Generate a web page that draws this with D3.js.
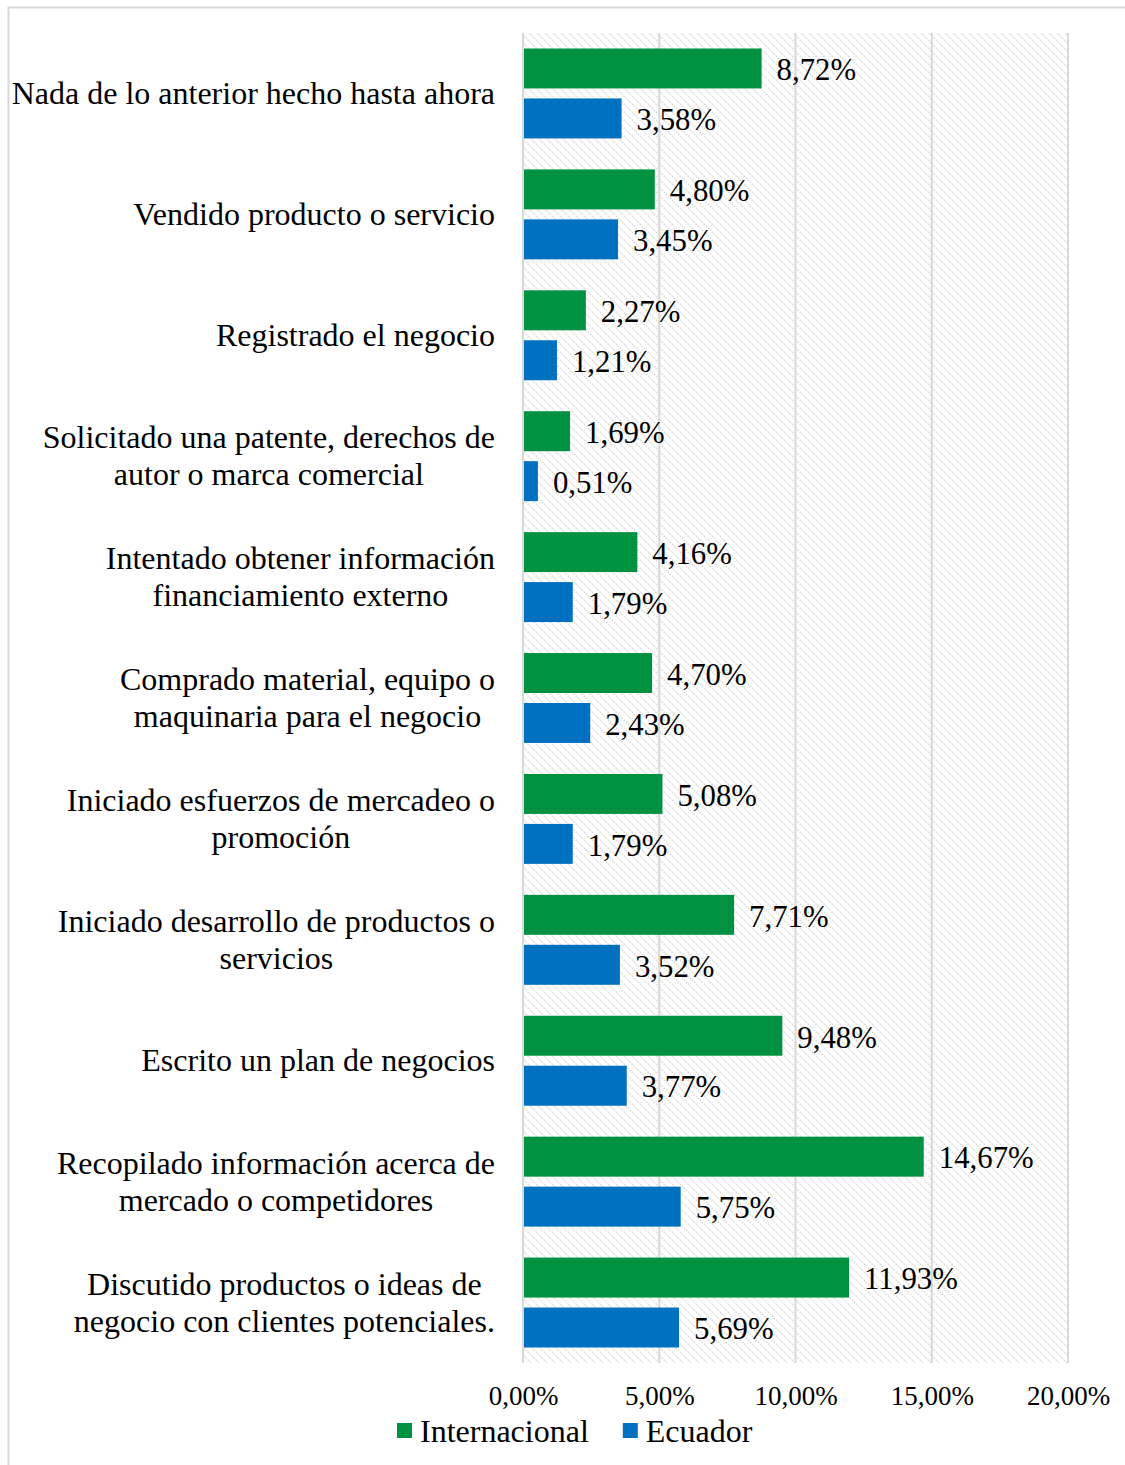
<!DOCTYPE html>
<html>
<head>
<meta charset="utf-8">
<script src="https://cdn.jsdelivr.net/npm/d3@7"></script>
<style>
  html, body { margin: 0; padding: 0; background: #fff; }
  svg { display: block; font-family: "Liberation Serif", "Times New Roman", serif; }
</style>
</head>
<body>
<svg id="chart" width="1125" height="1465"></svg>
<script>
// Activities carried out, shown top to bottom
const categories = [
  ["Nada de lo anterior hecho hasta ahora"],
  ["Vendido producto o servicio"],
  ["Registrado el negocio"],
  ["Solicitado una patente, derechos de", "autor o marca comercial"],
  ["Intentado obtener información", "financiamiento externo"],
  ["Comprado material, equipo o", "maquinaria para el negocio"],
  ["Iniciado esfuerzos de mercadeo o", "promoción"],
  ["Iniciado desarrollo de productos o", "servicios"],
  ["Escrito un plan de negocios"],
  ["Recopilado información acerca de", "mercado o competidores"],
  ["Discutido productos o ideas de", "negocio con clientes potenciales."]
];
const internacional = [8.72, 4.80, 2.27, 1.69, 4.16, 4.70, 5.08, 7.71, 9.48, 14.67, 11.93];
const ecuador       = [3.58, 3.45, 1.21, 0.51, 1.79, 2.43, 1.79, 3.52, 3.77, 5.75, 5.69];
const seriesNames = ["Internacional", "Ecuador"];
const seriesColors = ["#009241", "#0070c0"];
const xTicks = [0, 5, 10, 15, 20];

const svg = d3.select("#chart");
const fmt = v => v.toFixed(2).replace(".", ",") + "%";

// outer frame
svg.append("rect")
  .attr("x", 8.5).attr("y", 7.5).attr("width", 1130).attr("height", 1470)
  .attr("fill", "none").attr("stroke", "#d9d9d9").attr("stroke-width", 2);

const plot = { left: 523, right: 1068, top: 33, bottom: 1363 };

const x = d3.scaleLinear().domain([0, 20]).range([plot.left, plot.right]);
const y = d3.scaleBand().domain(d3.range(categories.length))
  .range([plot.top, plot.bottom]).paddingInner(0).paddingOuter(0);
const yInner = d3.scaleBand().domain([0, 1])
  .range([0, y.bandwidth()]).paddingInner(0.2).paddingOuter(0.31);

// hatched plot background
const defs = svg.append("defs");
const pat = defs.append("pattern").attr("id", "hatch")
  .attr("patternUnits", "userSpaceOnUse").attr("width", 8).attr("height", 8);
pat.append("path").attr("d", "M-2,-2 L10,10 M-2,6 L2,10 M6,-2 L10,2")
  .attr("stroke", "#d9d9d9").attr("stroke-width", 1.8).attr("stroke-dasharray", "1.4,1.4");
svg.append("rect")
  .attr("x", plot.left).attr("y", plot.top)
  .attr("width", plot.right - plot.left).attr("height", plot.bottom - plot.top)
  .attr("fill", "url(#hatch)");

// vertical gridlines
svg.append("g").selectAll("line").data(xTicks).join("line")
  .attr("x1", d => x(d)).attr("x2", d => x(d))
  .attr("y1", plot.top).attr("y2", plot.bottom)
  .attr("stroke", "#d9d9d9").attr("stroke-width", 2);

// x axis tick labels
const xAxis = d3.axisBottom(x).tickValues(xTicks).tickFormat(fmt).tickSize(0).tickPadding(0);
const gx = svg.append("g").attr("transform", `translate(0, ${plot.bottom + 42})`).call(xAxis);
gx.select(".domain").remove();
gx.selectAll("text")
  .attr("dy", 0).attr("y", 0)
  .style("font-family", "'Liberation Serif', serif")
  .style("font-size", "27px").attr("fill", "#000");

// bars
const series = [internacional, ecuador];
series.forEach((vals, s) => {
  const g = svg.append("g");
  g.selectAll("rect").data(vals).join("rect")
    .attr("x", x(0) + 1)
    .attr("y", (d, i) => y(i) + yInner(s))
    .attr("width", d => x(d) - x(0))
    .attr("height", yInner.bandwidth())
    .attr("fill", seriesColors[s]);
  g.selectAll("text").data(vals).join("text")
    .attr("x", d => x(d) + 16)
    .attr("y", (d, i) => y(i) + yInner(s) + yInner.bandwidth() / 2 + 1)
    .attr("dy", "0.35em")
    .attr("font-size", 30.8)
    .attr("fill", "#000")
    .text(fmt);
});

// category labels
const catG = svg.append("g");
categories.forEach((lines, i) => {
  const cy = y(i) + y.bandwidth() / 2;
  const lh = 37;
  const t = catG.append("text")
    .attr("font-size", 32).attr("fill", "#000")
    .attr("text-anchor", "middle");
  lines.forEach((ln, j) => {
    t.append("tspan").attr("x", 0)
      .attr("y", cy + (j - (lines.length - 1) / 2) * lh)
      .attr("dy", "0.33em").text(ln);
  });
  // right-align the centred block at the axis
  const w = t.node().getBBox().width;
  t.attr("transform", `translate(${495 - w / 2},0)`);
});

// legend
const leg = svg.append("g").attr("transform", "translate(397, 1442)");
let lx = 0;
seriesNames.forEach((n, s) => {
  leg.append("rect").attr("x", lx).attr("y", -19).attr("width", 15).attr("height", 15)
    .attr("fill", seriesColors[s]);
  const t = leg.append("text").attr("x", lx + 23).attr("y", 0)
    .attr("font-size", 32).attr("fill", "#000").text(n);
  lx += 23 + t.node().getComputedTextLength() + 34;
});
</script>
</body>
</html>
